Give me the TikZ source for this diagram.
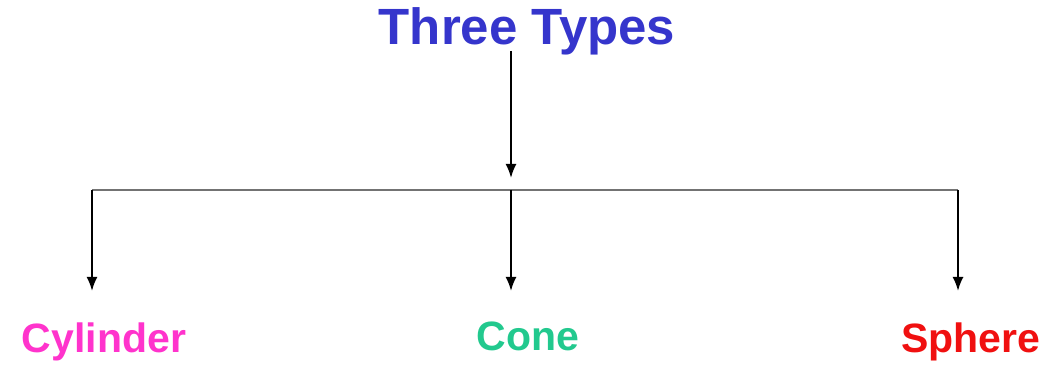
\documentclass[tikz,border=0pt]{standalone}
\usepackage{fontspec}
\setmainfont{Liberation Sans}
\usetikzlibrary{arrows.meta,positioning}
\definecolor{titleblue}{HTML}{3535CC}
\definecolor{cylpink}{HTML}{FF33CC}
\definecolor{conegreen}{HTML}{22C98E}
\definecolor{sphred}{HTML}{F01010}
\begin{document}
\begin{tikzpicture}[x=0.03cm, y=0.03cm,
  lbl/.style={font=\fontsize{35}{40}\selectfont\bfseries, inner sep=0pt, anchor=base},
  arr/.style={-{Latex[length=12pt,width=9.5pt]}, line width=1.8pt}]
\useasboundingbox (0,0) rectangle (1048,364);
\node[font=\fontsize{43.5}{50}\selectfont\bfseries, text=titleblue, inner sep=0pt, anchor=base] (title) at (527,319) {Three Types};

% bar and branch points
\coordinate (top) at (511,313);
\coordinate (mid) at (511,174);
\coordinate (left) at (92,174);
\coordinate (right) at (958,174);
\coordinate (midbar) at (511,186);
\coordinate (lefttip) at (92,73);
\coordinate (conetip) at (511,73);
\coordinate (righttip) at (958,73);

\node[lbl, text=cylpink] (cyl) at (104,12) {Cylinder};
\node[lbl, text=conegreen] (cone) at (528,14) {Cone};
\node[lbl, text=sphred] (sph) at (971,12) {Sphere};

\draw[arr] (top) -- (midbar);
\draw[line width=1.8pt, black!55] (left) -- (right);
\foreach \a/\b in {left/lefttip, mid/conetip, right/righttip}
  \draw[arr] (\a) -- (\b);
\end{tikzpicture}
\end{document}
